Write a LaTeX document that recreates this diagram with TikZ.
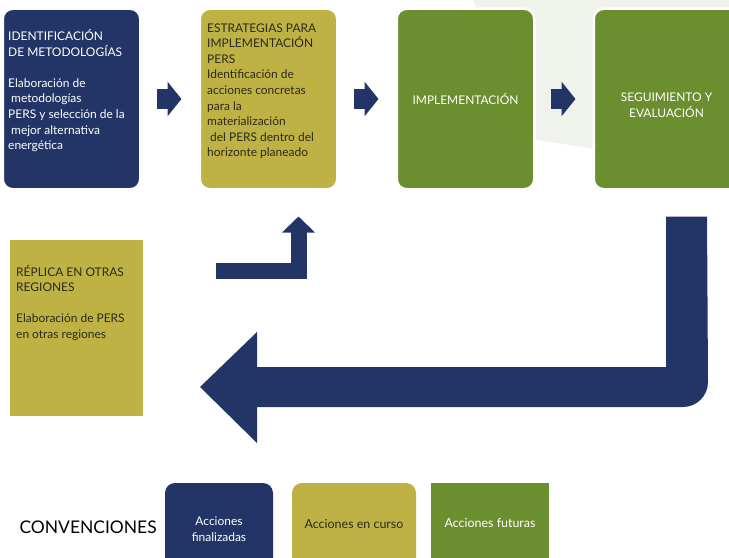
\documentclass[tikz,border=0pt]{standalone}
\usepackage{fontspec}
\setmainfont{Lato}
\usetikzlibrary{positioning,arrows.meta}
\definecolor{navy}{HTML}{233566}
\definecolor{olive}{HTML}{BFB245}
\definecolor{leaf}{HTML}{6B8E2F}
\definecolor{haze}{HTML}{F0F2EC}
\definecolor{ink}{HTML}{2B2A1C}

\begin{document}
\begin{tikzpicture}[x=1bp, y=-1bp, node distance=57bp,
  stage/.style={rounded corners=10bp, minimum width=137.5bp, minimum height=180.5bp,
    draw=white, line width=2.5bp, inner sep=0pt},
  done/.style={stage, fill=navy},
  current/.style={stage, fill=olive},
  future/.style={stage, fill=leaf},
  note/.style={align=left, anchor=north west, inner sep=0pt,
    font=\fontsize{12}{15.6}\selectfont},
  flow/.style={navy, line width=20bp, -{Triangle[length=14bp, width=34bp]}},
  key/.style={minimum height=90bp, draw=none}]
  \useasboundingbox (0,0) rectangle (729,558);
  \clip (0,0) rectangle (729,558);
  % background band behind the last stages
  \fill[haze] (473,0) -- (729,0) -- (729,150) -- (590,148) -- (537,140) -- cycle;

  % stages
  \node[done, anchor=north west] (b1) at (1.5,7.5) {};
  \node[current, right=of b1]    (b2) {};
  \node[future, right=of b2]     (b3) {};
  \node[future, right=of b3, minimum width=145.5bp] (b4) {};
  \node[current, rounded corners=0pt, draw=none, minimum width=133bp,
    minimum height=176bp, anchor=north west] (rep) at (9,239) {};

  \node[note, text=white] (t1) at ([xshift=6.5bp, yshift=-22bp]b1.north west)
    {IDENTIFICACIÓN\\DE METODOLOGÍAS\\[15.6bp]Elaboración de\\
     \hspace*{3bp}metodologías\\PERS y selección de la\\
     \hspace*{3bp}mejor alternativa\\energética};
  \node[note, text=ink] (t2) at ([xshift=8.5bp, yshift=-16bp]b2.north west)
    {ESTRATEGIAS PARA\\IMPLEMENTACIÓN\\PERS\\Identificación de\\
     acciones concretas\\para la\\materialización\\
     \hspace*{3bp}del PERS dentro del\\horizonte planeado};
  \node[text=white, font=\fontsize{12}{15.6}\selectfont] (t3) at (b3) {IMPLEMENTACIÓN};
  \node[text=white, align=center, font=\fontsize{12}{15.6}\selectfont] (t4)
    at ([yshift=-6bp]b4.center) {SEGUIMIENTO Y\\EVALUACIÓN};
  \node[note, text=ink] (t5) at ([xshift=7bp, yshift=-26bp]rep.north west)
    {RÉPLICA EN OTRAS\\REGIONES\\[15.6bp]Elaboración de PERS\\en otras regiones};

  % arrows
  \draw[flow] ([xshift=15bp]b1.east) -- ([xshift=-17bp]b2.west);
  \draw[flow] ([xshift=15bp]b2.east) -- ([xshift=-17bp]b3.west);
  \draw[flow] ([xshift=15bp]b3.east) -- ([xshift=-17bp]b4.west);
  \coordinate (turn) at (216,271);
  \draw[navy, line width=16bp, -{Triangle[length=16bp, width=32bp]}]
    (turn) -| ([xshift=30bp, yshift=-26bp]b2.south);
  % big return arrow
  \coordinate (drop) at ([xshift=20bp, yshift=-26bp]b4.south);
  \coordinate (back) at (200,387);
  \fill[navy] ([xshift=-20.5bp]drop) -- ([xshift=20.5bp]drop) -- (708,382)
    .. controls (708,395.8) and (696.8,407) .. (683,407)
    -- (257,407) -- (257,443) -- (back) -- (257,332) -- (257,367)
    -- ([xshift=-20.5bp]drop |- 0,367) -- cycle;

  % legend
  \node[font=\fontsize{17.5}{20}\selectfont, anchor=west] (conv) at (16,527) {CONVENCIONES};
  \node[done, key, anchor=north west, minimum width=108bp] (k1) at (163.75,481.75) {};
  \node[current, key, minimum width=124bp, right=16.5bp of k1] (k2) {};
  \node[future, key, rounded corners=0pt, minimum width=118bp, right=12.5bp of k2] (k3) {};
  \node[text=white, align=center, font=\fontsize{12}{16}\selectfont] at ([yshift=-1bp]k1.center)
    {Acciones\\finalizadas};
  \node[text=ink, font=\fontsize{12.5}{16}\selectfont] at ([yshift=4bp]k2.center) {Acciones en curso};
  \node[text=white, font=\fontsize{12.5}{16}\selectfont] at ([yshift=5bp]k3.center) {Acciones futuras};
\end{tikzpicture}
\end{document}
